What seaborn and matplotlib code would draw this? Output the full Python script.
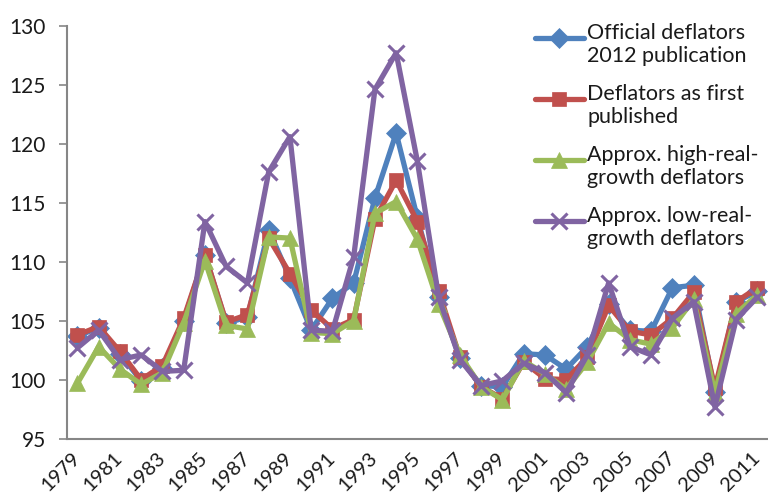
import matplotlib
matplotlib.use("Agg")
import matplotlib.pyplot as plt
from matplotlib.legend_handler import HandlerLine2D
import seaborn as sns
import numpy as np
import pandas as pd

years = list(range(1979, 2012))
official_2012 = [103.7, 104.4, 102.2, 99.9, 101.0, 105.0, 110.6, 104.8, 105.3, 112.7,
                 108.6, 104.2, 106.9, 108.2, 115.4, 120.9, 113.7, 107.0, 101.8, 99.5,
                 99.4, 102.2, 102.1, 100.9, 102.8, 106.4, 104.2, 104.1, 107.8, 108.0,
                 99.0, 106.6, 107.5]
first_published = [103.8, 104.5, 102.4, 100.0, 101.2, 105.2, 110.6, 104.9, 105.5, 112.0,
                   109.0, 105.9, 104.3, 105.1, 113.6, 116.9, 113.4, 107.5, 101.9, 99.4,
                   98.4, 101.5, 100.1, 100.0, 101.9, 106.3, 104.1, 103.8, 105.2, 107.4,
                   99.3, 106.6, 107.8]
high_real = [99.7, 102.8, 100.9, 99.6, 100.6, 104.8, 110.1, 104.6, 104.3, 112.1,
             112.0, 104.0, 103.9, 105.0, 114.1, 115.1, 111.9, 106.4, 102.1, 99.4,
             98.3, 101.6, 100.5, 99.2, 101.5, 104.8, 103.4, 103.0, 104.4, 106.8,
             98.9, 105.6, 107.2]
low_real = [102.7, 104.2, 101.7, 102.1, 100.7, 100.8, 113.4, 109.6, 108.2, 117.6,
            120.6, 104.2, 104.1, 110.4, 124.6, 127.7, 118.5, 107.0, 101.7, 99.5,
            99.9, 101.4, 100.6, 98.9, 102.1, 108.2, 102.8, 102.1, 105.2, 106.6,
            97.7, 105.1, 107.0]

series_names = ["Official deflators\n2012 publication",
                "Deflators as first\npublished",
                "Approx. high-real-\ngrowth deflators",
                "Approx. low-real-\ngrowth deflators"]
series_values = [official_2012, first_published, high_real, low_real]
colors = ["#4F81BD", "#C0504D", "#9BBB59", "#8064A2"]
markers = ["D", "s", "^", "x"]
msizes = [10, 10.5, 12, 12]

sns.set_theme(style="white")
plt.rcParams['font.family'] = ['Lato', 'DejaVu Sans']

LEG_FS = 15.5


class FirstLineHandler(HandlerLine2D):
    def create_artists(self, legend, orig_handle, xdescent, ydescent,
                       width, height, fontsize, trans):
        shift = 0.62 * fontsize
        return super().create_artists(legend, orig_handle, xdescent, ydescent - shift,
                                      width, height, fontsize, trans)


fig = plt.figure(figsize=(7.68, 5.0), dpi=100)
ax = fig.add_axes([0.087, 0.1226, 0.913, 0.826])

idx = np.arange(len(years))
for name, vals, c, m, ms in zip(series_names, series_values, colors, markers, msizes):
    df = pd.DataFrame({"i": idx, "v": vals})
    sns.lineplot(data=df, x="i", y="v", ax=ax, color=c, lw=3.8, marker=m,
                 markersize=ms, markeredgecolor=c, markeredgewidth=2.2 if m == "x" else 0.5,
                 label=name)

ax.set_xlim(-0.5, len(years) - 0.5)
ax.set_ylim(95, 130)
ax.set_yticks(np.arange(95, 131, 5))
ax.set_yticklabels([str(v) for v in range(95, 131, 5)], fontsize=15, color="#1a1a1a")
ax.set_xticks(idx[::2])
ax.set_xticklabels([str(y) for y in years[::2]], fontsize=14.5, color="#1a1a1a",
                   rotation=45, ha="right", va="center", rotation_mode="anchor")
ax.set_xticks(np.arange(-0.5, len(years), 1), minor=True)
ax.tick_params(axis="x", which="major", length=0, pad=12)
ax.tick_params(axis="x", which="minor", length=6, width=1.2, color="#868686", direction="out")
ax.tick_params(axis="y", length=6, width=1.2, color="#868686", direction="out", pad=9, left=True)
ax.set_xlabel("")
ax.set_ylabel("")
for s in ["top", "right"]:
    ax.spines[s].set_visible(False)
for s in ["left", "bottom"]:
    ax.spines[s].set_color("#868686")
    ax.spines[s].set_linewidth(1.5)

handles, labels = ax.get_legend_handles_labels()
leg = ax.legend(handles, labels, loc="upper left", bbox_to_anchor=(0.655, 1.028),
                frameon=False, fontsize=LEG_FS, handlelength=2.3, handletextpad=0.15,
                labelspacing=0.83, borderaxespad=0,
                handler_map={h: FirstLineHandler() for h in handles})
for t in leg.get_texts():
    t.set_color("#1a1a1a")

fig.savefig("out.png", dpi=100)
